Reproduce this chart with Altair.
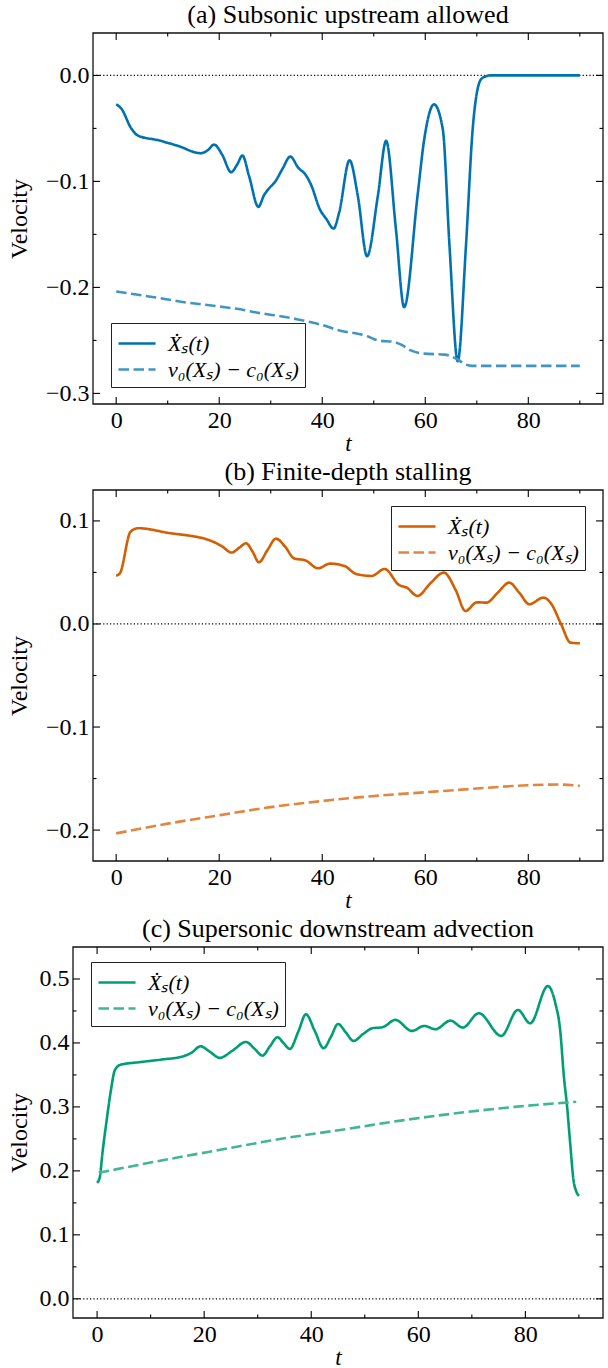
import altair as alt
import pandas as pd

FONT = "Liberation Serif"
SOLID = "Ẋₛ(t)"
DASH = "v₀(Xₛ) − c₀(Xₛ)"

# ---------------- panel (a) ----------------
a_t_solid = [0, 1.1, 2.8, 4.3, 8, 12, 16.4, 17.8, 19.0, 20.6, 22.3, 23.5, 24.5, 25.8, 27.6, 28.7,
             29.6, 30.9, 32.3, 33.8, 35.3, 36.9, 37.9, 39.5, 40.8, 42.2, 43.3, 45.3, 46.9, 48.7,
             50.8, 52.4, 54.3, 55.9, 58.5, 59.8, 61.7, 63.4, 64.7, 66.3, 67.9, 69.2, 70.8, 71.8,
             72.6, 75, 80, 85, 90]
a_v_solid = [-0.0272, -0.032, -0.049, -0.057, -0.061, -0.0665, -0.0734, -0.0705, -0.0653, -0.075,
             -0.0913, -0.084, -0.0756, -0.095, -0.124, -0.113, -0.107, -0.100, -0.088, -0.0766,
             -0.0868, -0.0947, -0.104, -0.126, -0.1355, -0.1445, -0.129, -0.080, -0.1135, -0.1706,
             -0.1135, -0.0618, -0.1449, -0.2186, -0.1135, -0.0602, -0.0273, -0.0508, -0.1606,
             -0.2697, -0.1606, -0.0508, -0.0038, -0.0008, 0.0, 0.0, 0.0, 0.0, 0.0]
a_t_dash = [0, 7, 14, 20, 25, 27, 31, 35.3, 37, 40, 43.7, 46.9, 49, 50.8, 54.0, 55.5, 57.2, 59.8,
            63.7, 66.0, 67.9, 69, 75, 80, 90]
a_v_dash = [-0.2038, -0.209, -0.2145, -0.218, -0.2215, -0.2235, -0.2265, -0.2302, -0.232, -0.2355,
            -0.2412, -0.2437, -0.2465, -0.25, -0.2515, -0.2545, -0.2594, -0.2625, -0.2634, -0.2672,
            -0.2728, -0.274, -0.274, -0.274, -0.274]

# ---------------- panel (b) ----------------
b_t_solid = [0, 0.7, 2.8, 4.3, 10, 18.3, 20.5, 22.4, 23.9, 25.2, 26.5, 27.7, 29.4, 31.0, 32.8, 34.5,
             36.8, 39.2, 41.5, 44.3, 46.6, 49.6, 52.1, 54.9, 56.4, 58.5, 61.0, 63.6, 65.9, 67.8,
             70.0, 71.9, 74.0, 76.3, 78.3, 80.2, 82.9, 84.4, 86.3, 88.2, 90]
b_v_solid = [0.0469, 0.049, 0.0896, 0.0929, 0.0885, 0.0809, 0.0755, 0.0693, 0.074, 0.0783, 0.07,
             0.0599, 0.072, 0.0828, 0.075, 0.0638, 0.0615, 0.054, 0.0586, 0.0563, 0.0485, 0.0466,
             0.0534, 0.0379, 0.0353, 0.0272, 0.0395, 0.0498, 0.033, 0.0126, 0.021, 0.0207, 0.03,
             0.0401, 0.03, 0.0191, 0.0256, 0.02, 0.0006, -0.0181, -0.0188]
b_t_dash = [0, 10.3, 20.2, 30, 39.8, 49.6, 60.2, 70, 79.8, 85.9, 90]
b_v_dash = [-0.2032, -0.1935, -0.1855, -0.1777, -0.1719, -0.1671, -0.1632, -0.1597, -0.1565,
            -0.1558, -0.1571]

# ---------------- panel (c) ----------------
c_t_solid = [0, 0.5, 1.0, 1.8, 2.6, 3.3, 4.4, 8, 12, 16.0, 17.7, 19.3, 21.1, 22.9, 25.3, 27.8, 29.4,
             30.9, 32.3, 33.7, 34.8, 36.0, 37.6, 39.0, 40.7, 42.3, 43.7, 45.0, 46.5, 47.9, 49.7,
             51.4, 53.3, 55.7, 58.8, 61.1, 63.2, 66.0, 68.3, 71.3, 75.5, 78.6, 80.9, 84.2, 85.6,
             86.5, 87.2, 87.8, 88.4, 89.0, 89.5, 90]
c_v_solid = [0.1813, 0.19, 0.228, 0.28, 0.327, 0.357, 0.366, 0.370, 0.374, 0.379, 0.385, 0.3948,
             0.386, 0.3766, 0.388, 0.4016, 0.391, 0.3802, 0.395, 0.4089, 0.400, 0.3906, 0.418,
             0.4448, 0.418, 0.3917, 0.41, 0.4297, 0.416, 0.4031, 0.414, 0.423, 0.4245, 0.436,
             0.4188, 0.4266, 0.4214, 0.4349, 0.424, 0.4464, 0.411, 0.4516, 0.4307, 0.489, 0.462,
             0.42, 0.347, 0.30, 0.24, 0.185, 0.168, 0.161]
c_t_dash = [0.3, 10, 23, 35, 47, 57, 67, 78, 89.5]
c_v_dash = [0.197, 0.213, 0.233, 0.251, 0.266, 0.279, 0.29, 0.30, 0.308]

x_major = [0, 20, 40, 60, 80]
x_minor = [10, 30, 50, 70, 90]

W = 530
H = 371


def panel(title, ts, vs, td, vd, col_s, col_d, ydom, ymaj, ymin, x0,
          legx, legy, title_pad):
    df = pd.DataFrame(
        [{"t": t, "v": v, "series": SOLID} for t, v in zip(ts, vs)]
        + [{"t": t, "v": v, "series": DASH} for t, v in zip(td, vd)]
    )
    xscale = alt.Scale(domain=[-4.5, 94.5], range=[x0, W], nice=False, zero=False)
    yscale = alt.Scale(domain=ydom, nice=False, zero=False)
    xaxis = alt.Axis(values=x_major, format="d", domain=False, ticks=False, grid=False,
                     labelFont=FONT, labelFontSize=24, labelPadding=4, labelColor="black",
                     title="t", titleFont=FONT, titleFontSize=23, titleFontStyle="italic",
                     titleFontWeight="normal", titlePadding=0, titleColor="black")
    yaxis = alt.Axis(values=ymaj, format=".1f", domain=False, ticks=False, grid=False,
                     offset=-x0,
                     labelFont=FONT, labelFontSize=24, labelPadding=4, labelColor="black",
                     title="Velocity", titleFont=FONT, titleFontSize=24,
                     titleFontWeight="normal", titlePadding=title_pad, titleColor="black")
    X = alt.X("t:Q", scale=xscale, axis=xaxis)
    Y = alt.Y("v:Q", scale=yscale, axis=yaxis)

    leg = alt.Legend(orient="none", legendX=legx, legendY=legy, title=None,
                     labelFont=FONT, labelFontSize=22, labelFontStyle="italic",
                     labelColor="black", symbolType="M-1,0H1.85", symbolSize=676,
                     symbolStrokeWidth=2.6, labelOffset=22, rowPadding=0,
                     padding=6, strokeColor="#222222", fillColor="white")
    lines = alt.Chart(df).mark_line(strokeWidth=2.6, interpolate="monotone").encode(
        x=X, y=Y,
        color=alt.Color("series:N", scale=alt.Scale(domain=[SOLID, DASH], range=[col_s, col_d]),
                        legend=leg),
        strokeDash=alt.StrokeDash("series:N",
                                  scale=alt.Scale(domain=[SOLID, DASH],
                                                  range=[[1, 0], [10.5, 4.5]]),
                                  legend=leg),
    )
    zero = alt.Chart(pd.DataFrame({"v": [0.0]})).mark_rule(
        color="black", strokeWidth=1.2, strokeDash=[1.2, 2.2]).encode(
        y=Y, x=alt.value(x0), x2=alt.value(W))

    frame = alt.Chart(pd.DataFrame({"k": [0]})).mark_rect(
        filled=False, stroke="#111111", strokeWidth=1.3).encode(
        x=alt.value(x0), x2=alt.value(W), y=alt.value(0), y2=alt.value(H))

    def yt(vals, length):
        d = pd.DataFrame({"v": vals})
        left = alt.Chart(d).mark_rule(color="black", strokeWidth=1.1).encode(
            y=Y, x=alt.value(x0), x2=alt.value(x0 + length))
        right = alt.Chart(d).mark_rule(color="black", strokeWidth=1.1).encode(
            y=Y, x=alt.value(W - length), x2=alt.value(W))
        return [left, right]

    def xt(vals, length):
        d = pd.DataFrame({"t": vals})
        bot = alt.Chart(d).mark_rule(color="black", strokeWidth=1.1).encode(
            x=X, y=alt.value(H - length), y2=alt.value(H))
        top = alt.Chart(d).mark_rule(color="black", strokeWidth=1.1).encode(
            x=X, y=alt.value(0), y2=alt.value(length))
        return [bot, top]

    layers = [zero, lines, frame] + yt(ymaj, 7) + yt(ymin, 3.5) + xt(x_major, 7) + xt(x_minor, 3.5)
    return alt.layer(*layers).properties(
        width=W, height=H,
        title=alt.TitleParams(text=title, font=FONT, fontSize=26, fontWeight="normal",
                              anchor="middle", offset=4, dx=x0 / 2, color="black"),
    )


pa = panel("(a) Subsonic upstream allowed", a_t_solid, a_v_solid, a_t_dash, a_v_dash,
           "#0072B2", "#4095c5", [-0.31, 0.04], [-0.3, -0.2, -0.1, 0.0],
           [-0.25, -0.15, -0.05], 20, 38, 290, 14)
pb = panel("(b) Finite-depth stalling", b_t_solid, b_v_solid, b_t_dash, b_v_dash,
           "#D55E00", "#e08640", [-0.23, 0.13], [-0.2, -0.1, 0.0, 0.1],
           [-0.15, -0.05, 0.05], 20, 318, 16, 14)
pc = panel("(c) Supersonic downstream advection", c_t_solid, c_v_solid, c_t_dash, c_v_dash,
           "#009E73", "#40b696", [-0.03, 0.55], [0.0, 0.1, 0.2, 0.3, 0.4, 0.5],
           [0.05, 0.15, 0.25, 0.35, 0.45], 0, 18, 15, 7.5)

chart = alt.concat(pa, pb, pc, columns=1, bounds="flush", spacing=86).resolve_scale(
    color="independent", strokeDash="independent", x="independent", y="independent"
).properties(
    padding={"left": 7, "top": 2, "right": 3, "bottom": 0}
).configure(
    font=FONT, background="white"
).configure_view(
    stroke="transparent", strokeWidth=0
).configure_axis(
    labelFont=FONT, titleFont=FONT
).configure_legend(
    labelFont=FONT
).configure_title(
    font=FONT
)

chart.save("out.html", embed_options={"renderer": "svg", "actions": False})
